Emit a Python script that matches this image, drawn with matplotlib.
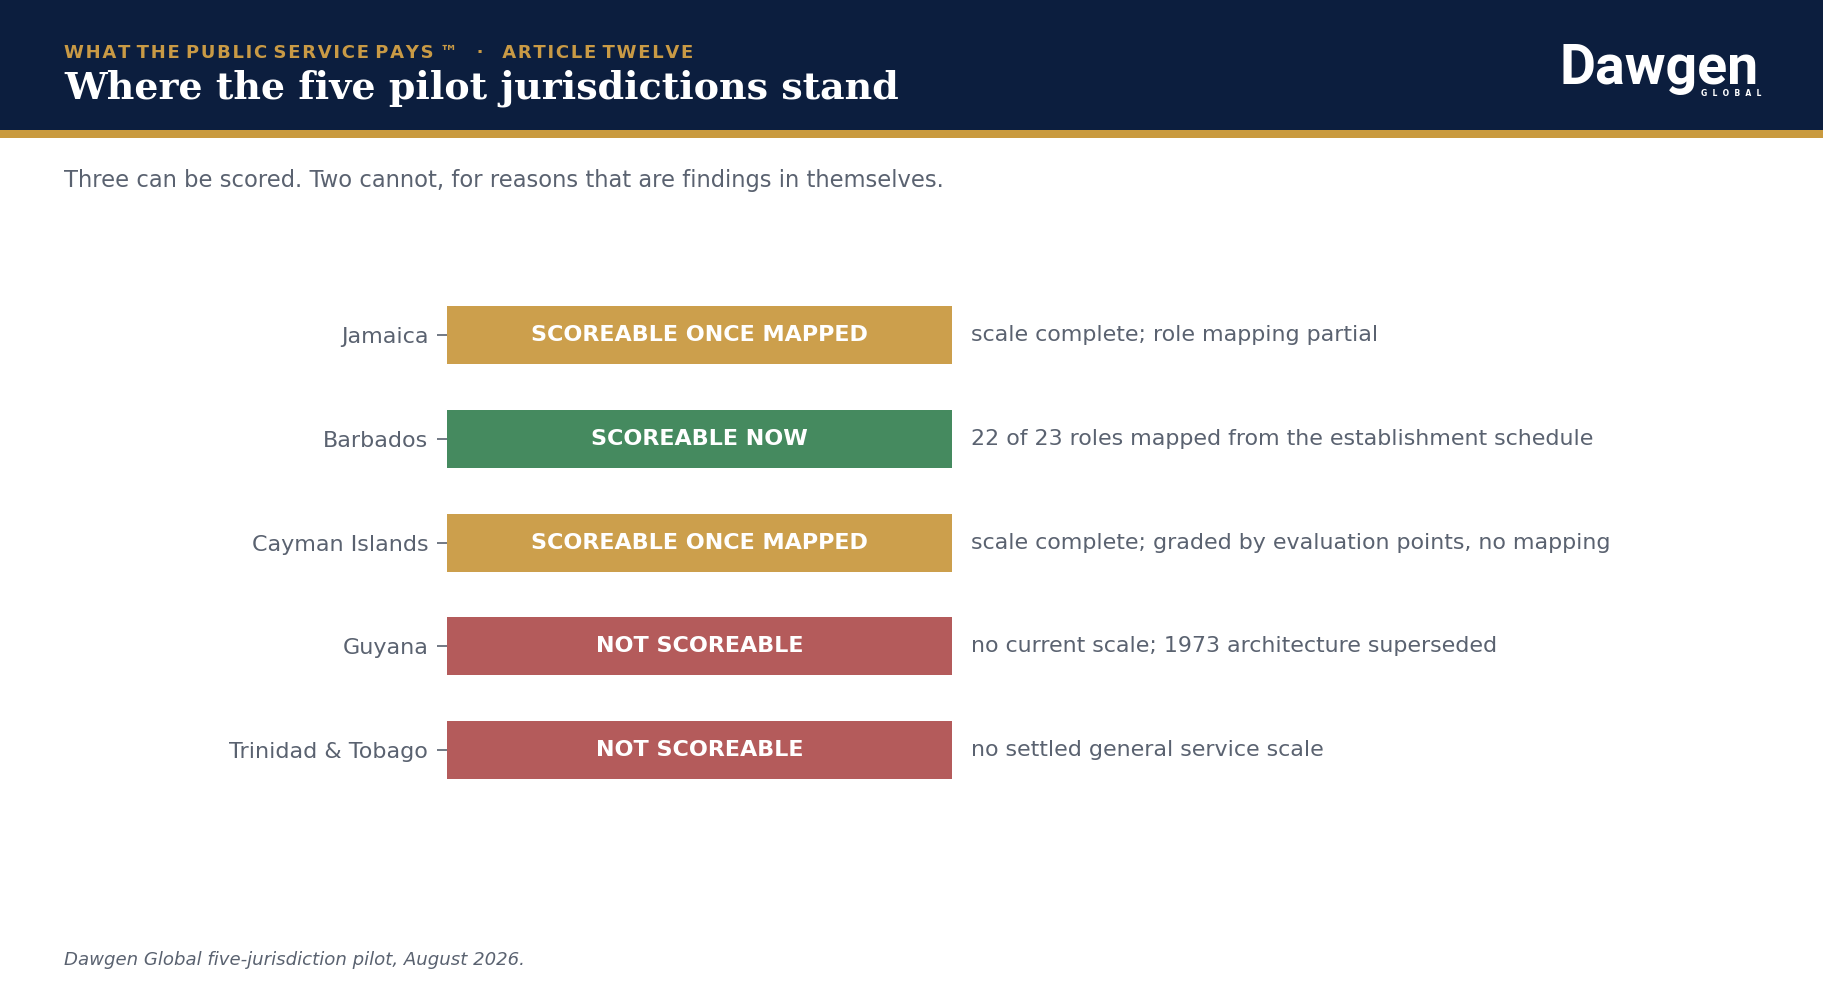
import matplotlib
matplotlib.use('Agg')
import matplotlib.pyplot as plt
from matplotlib.patches import Rectangle

# data
jurisdictions = ['Jamaica', 'Barbados', 'Cayman Islands', 'Guyana', 'Trinidad & Tobago']
statuses = ['SCOREABLE ONCE MAPPED', 'SCOREABLE NOW', 'SCOREABLE ONCE MAPPED',
            'NOT SCOREABLE', 'NOT SCOREABLE']
notes = ['scale complete; role mapping partial',
         '22 of 23 roles mapped from the establishment schedule',
         'scale complete; graded by evaluation points, no mapping',
         'no current scale; 1973 architecture superseded',
         'no settled general service scale']
bar_values = [1, 1, 1, 1, 1]

status_colors = {'SCOREABLE NOW': '#458A5F',
                 'SCOREABLE ONCE MAPPED': '#CC9F4C',
                 'NOT SCOREABLE': '#B45B5B'}

NAVY = '#0C1E3E'
GOLD = '#C99A3F'
GRAY = '#5A6270'

W, H = 1824, 988
fig = plt.figure(figsize=(W / 100, H / 100), dpi=100)
fig.patch.set_facecolor('white')

def fy(px):
    return 1 - px / H

def spaced(s):
    # hair space between letters of each word (simple letter-spacing)
    return ' '.join('\u200a'.join(w) for w in s.split(' '))

# header band
fig.patches.append(Rectangle((0, fy(130)), 1, 130 / H, transform=fig.transFigure,
                             facecolor=NAVY, edgecolor='none', zorder=0))
fig.patches.append(Rectangle((0, fy(137.7)), 1, 7.7 / H, transform=fig.transFigure,
                             facecolor=GOLD, edgecolor='none', zorder=0))

x0 = 64 / W
overline = 'WHAT THE PUBLIC SERVICE PAYS \u2122   \u00b7   ARTICLE TWELVE'
fig.text(x0, fy(57.5), spaced(overline),
         color='#C99A45', fontsize=13.0, fontweight='bold', va='baseline', ha='left')
fig.text(x0, fy(98.5), 'Where the five pilot jurisdictions stand',
         color='white', fontsize=27.4, fontweight='bold', family='DejaVu Serif',
         va='baseline', ha='left')

# logo
fig.text(1759 / W, fy(84), 'Dawgen', color='white', fontsize=40, fontweight='bold',
         family='Roboto', va='baseline', ha='right')
fig.text(1761 / W, fy(96), 'G  L  O  B  A  L', color='white', fontsize=5.5,
         fontweight='bold', va='baseline', ha='right')

fig.text(x0, fy(187.5), 'Three can be scored. Two cannot, for reasons that are findings in themselves.',
         color=GRAY, fontsize=16.25, va='baseline', ha='left')

fig.text(x0, fy(964.5), 'Dawgen Global five-jurisdiction pilot, August 2026.',
         color=GRAY, fontsize=13.1, style='italic', va='baseline', ha='left')

# chart
row_px = 103.8
top_px = 335 - 0.5 * row_px
bot_px = 335 + 4.5 * row_px
left_px = 447
unit_px = 505
xmax = 2.6
ax = fig.add_axes([left_px / W, 1 - bot_px / H, xmax * unit_px / W, (bot_px - top_px) / H])

ypos = list(range(len(jurisdictions)))
colors = [status_colors[s] for s in statuses]
ax.barh(ypos, bar_values, height=0.56, color=colors, edgecolor='none')

for i in ypos:
    ax.text(bar_values[i] / 2, i, statuses[i], color='white', fontsize=16,
            fontweight='bold', ha='center', va='center')
    ax.annotate(notes[i], xy=(bar_values[i], i), xytext=(14, 0),
                textcoords='offset points', color=GRAY, fontsize=15.95,
                ha='left', va='center')

ax.set_xlim(0, xmax)
ax.set_ylim(len(jurisdictions) - 0.5, -0.5)
ax.set_yticks(ypos)
ax.set_yticklabels(jurisdictions)
ax.set_xticks([])
ax.tick_params(axis='y', length=7, width=1.2, color=GRAY, labelcolor=GRAY,
               labelsize=16, pad=6.5)
for s in ax.spines.values():
    s.set_visible(False)
ax.patch.set_alpha(0)

fig.savefig('out.png', dpi=100)
